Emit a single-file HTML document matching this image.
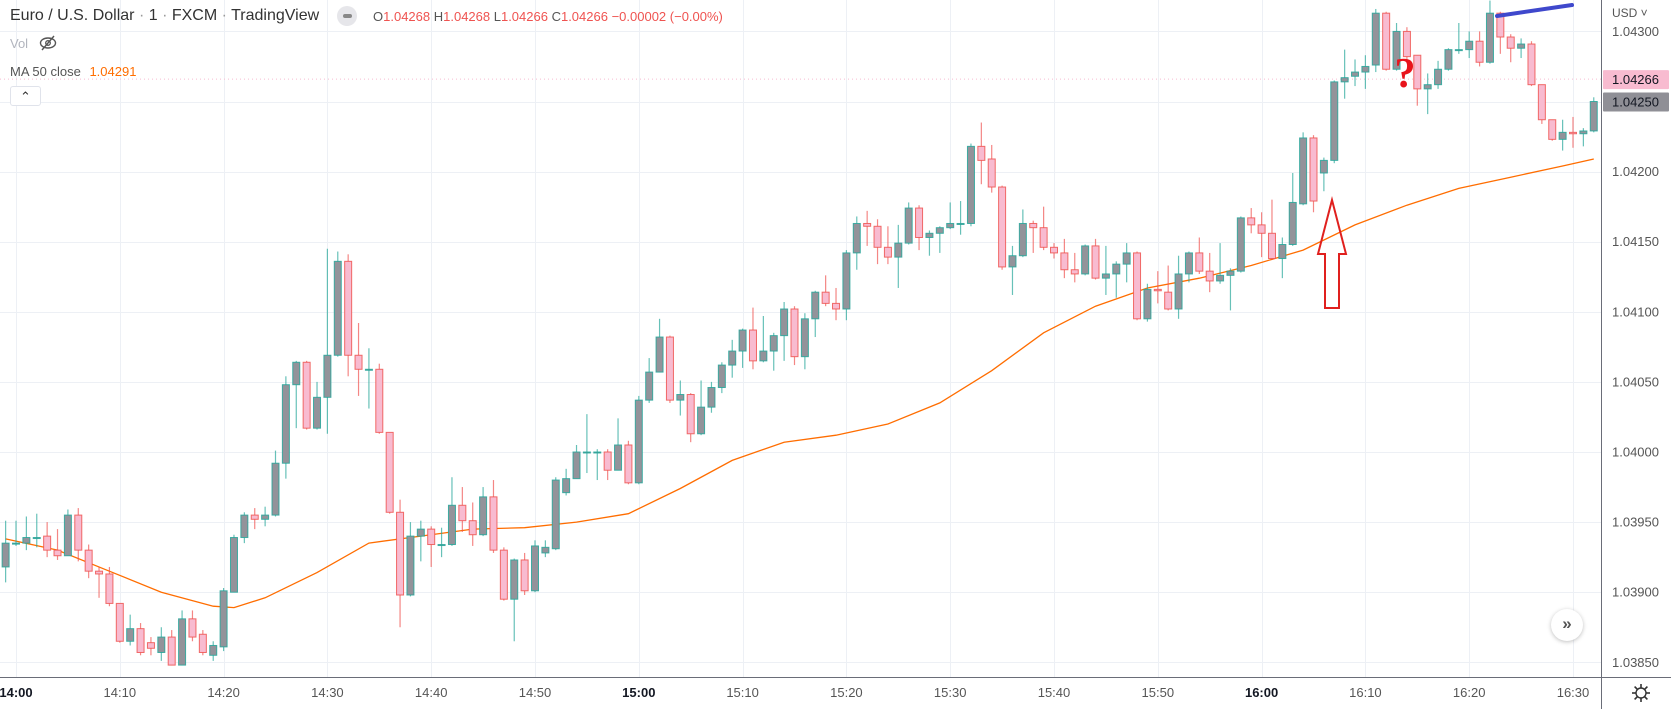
<!DOCTYPE html>
<html><head><meta charset="utf-8">
<style>
html,body{margin:0;padding:0;background:#fff;width:1671px;height:709px;overflow:hidden;font-family:"Liberation Sans",sans-serif}
#wrap{position:relative;width:1671px;height:709px}
svg{position:absolute;left:0;top:0}
.hdr{position:absolute;white-space:nowrap}
</style></head>
<body>
<div id="wrap">
<svg id="chart" width="1671" height="709"></svg>
<div class="hdr" style="left:10px;top:7px;font-size:16px;color:#333">Euro / U.S. Dollar <span style="color:#999">·</span> 1 <span style="color:#999">·</span> FXCM <span style="color:#999">·</span> TradingView</div>
<div style="position:absolute;left:337px;top:6px;width:20px;height:20px;border-radius:10px;background:#e6e6ea"><div style="position:absolute;left:6px;top:8px;width:9px;height:4px;border-radius:2px;background:#888"></div></div>
<div class="hdr" style="left:373px;top:9px;font-size:13px;color:#555">O<span style="color:#ef5350">1.04268</span> H<span style="color:#ef5350">1.04268</span> L<span style="color:#ef5350">1.04266</span> C<span style="color:#ef5350">1.04266 −0.00002 (−0.00%)</span></div>
<div class="hdr" style="left:10px;top:36px;font-size:13px;color:#b2b5be">Vol</div>
<svg width="20" height="16" style="left:38px;top:35px;position:absolute"><ellipse cx="10" cy="8" rx="7.5" ry="5" fill="none" stroke="#555" stroke-width="1.4"/><circle cx="10" cy="8" r="2.3" fill="none" stroke="#555" stroke-width="1.3"/><line x1="4" y1="15" x2="16" y2="1" stroke="#555" stroke-width="1.4"/></svg>
<div class="hdr" style="left:10px;top:64px;font-size:13px;color:#555">MA 50 close <span style="color:#ff6d00;margin-left:5px">1.04291</span></div>
<div style="position:absolute;left:10px;top:86px;width:29px;height:18px;border:1px solid #e0e3eb;border-radius:3px;background:#fff;font-size:13px;text-align:center;line-height:20px;color:#333">&#8963;</div>
<div class="hdr" style="left:1612px;top:6px;font-size:12px;color:#555">USD &#709;</div>
<div style="position:absolute;left:1551px;top:609px;width:32px;height:32px;border-radius:16px;background:#fff;box-shadow:0 1px 4px rgba(0,0,0,.25);text-align:center;line-height:30px;font-size:17px;font-weight:bold;color:#555">»</div>
<svg width="20" height="20" style="position:absolute;left:1631px;top:683px"><circle cx="10" cy="10" r="5" fill="none" stroke="#333" stroke-width="1.4"/><g stroke="#333" stroke-width="1.6"><line x1="10" y1="1" x2="10" y2="5"/><line x1="10" y1="15" x2="10" y2="19"/><line x1="1" y1="10" x2="5" y2="10"/><line x1="15" y1="10" x2="19" y2="10"/><line x1="3.6" y1="3.6" x2="6.5" y2="6.5"/><line x1="13.5" y1="13.5" x2="16.4" y2="16.4"/><line x1="3.6" y1="16.4" x2="6.5" y2="13.5"/><line x1="13.5" y1="6.5" x2="16.4" y2="3.6"/></g></svg>
</div>
<script>
// prices x1e5, candles start at 13:59 (minute -1)
const FIRST_MINUTE = -1;
const opens = [103918,103935,103935,103939,103940,103930,103926,103955,103930,103915,103913,103892,103865,103874,103864,103857,103868,103848,103881,103870,103855,103861,103900,103939,103955,103952,103955,103992,104048,104064,104017,104039,104069,104136,104069,104059,104059,104014,103957,103898,103940,103945,103934,103934,103962,103951,103941,103968,103930,103895,103923,103901,103928,103931,103971,103981,104000,104000,104000,103987,104005,103978,104037,104057,104082,104037,104041,104013,104032,104046,104062,104072,104087,104065,104072,104083,104102,104068,104095,104114,104106,104102,104142,104163,104161,104146,104139,104149,104174,104153,104156,104160,104163,104163,104218,104209,104189,104132,104140,104163,104160,104146,104142,104130,104127,104147,104124,104127,104134,104142,104095,104116,104114,104102,104127,104142,104129,104122,104126,104129,104167,104162,104156,104138,104148,104177,104224,104199,104208,104264,104268,104271,104276,104313,104273,104300,104283,104259,104262,104273,104287,104287,104293,104278,104313,104296,104288,104291,104262,104237,104223,104228,104227,104229];
const closes = [103935,103935,103939,103939,103930,103926,103955,103930,103915,103913,103892,103865,103874,103857,103860,103868,103848,103881,103868,103857,103862,103901,103939,103955,103952,103955,103992,104048,104064,104017,104039,104069,104136,104069,104059,104059,104014,103957,103898,103940,103945,103934,103934,103962,103951,103941,103968,103930,103895,103923,103901,103933,103932,103980,103981,104000,104000,104000,103987,104005,103978,104037,104057,104082,104037,104041,104013,104032,104046,104062,104072,104087,104065,104072,104083,104102,104068,104095,104114,104106,104102,104142,104163,104161,104146,104139,104149,104174,104153,104156,104160,104163,104163,104218,104208,104189,104132,104140,104163,104160,104146,104142,104130,104127,104147,104124,104127,104134,104142,104095,104116,104115,104102,104127,104142,104129,104122,104126,104129,104167,104162,104156,104138,104148,104178,104224,104179,104208,104264,104267,104271,104275,104313,104273,104300,104282,104259,104262,104273,104287,104287,104293,104278,104313,104296,104288,104291,104262,104237,104223,104228,104227,104229,104250];
const highs = [103951,103951,103954,103956,103950,103945,103959,103960,103934,103918,103918,103892,103884,103878,103868,103875,103873,103887,103887,103873,103865,103903,103941,103957,103960,103961,104001,104054,104065,104065,104050,104145,104143,104141,104092,104074,104063,104014,103966,103950,103951,103947,103946,103982,103975,103964,103975,103980,103932,103924,103928,103937,103937,103982,103988,104005,104027,104002,104002,104024,104008,104040,104067,104095,104083,104051,104042,104051,104050,104064,104080,104088,104103,104097,104085,104107,104104,104099,104115,104126,104117,104144,104168,104172,104166,104161,104162,104178,104176,104158,104161,104178,104179,104220,104235,104219,104190,104147,104173,104165,104175,104149,104152,104142,104148,104152,104147,104136,104149,104143,104120,104129,104133,104140,104143,104153,104142,104149,104131,104168,104174,104171,104180,104153,104199,104228,104226,104210,104265,104287,104280,104283,104316,104314,104306,104303,104283,104270,104279,104288,104306,104300,104300,104322,104314,104298,104295,104293,104262,104237,104237,104239,104231,104253];
const lows = [103907,103933,103930,103932,103925,103923,103926,103922,103910,103896,103890,103864,103862,103855,103855,103851,103848,103848,103865,103855,103851,103858,103900,103935,103945,103947,103954,103981,104017,104016,104016,104013,104068,104054,104040,104031,104013,103956,103875,103897,103922,103918,103925,103933,103943,103933,103940,103928,103894,103865,103898,103900,103925,103930,103969,103981,103985,103980,103980,103987,103977,103977,104035,104057,104035,104026,104007,104012,104028,104042,104053,104060,104059,104064,104058,104065,104062,104059,104082,104104,104094,104094,104130,104147,104134,104134,104117,104148,104144,104140,104142,104159,104155,104161,104191,104185,104130,104112,104139,104142,104144,104138,104124,104121,104126,104123,104112,104110,104121,104094,104093,104106,104101,104095,104121,104127,104114,104120,104101,104128,104156,104139,104137,104124,104147,104176,104171,104186,104206,104252,104261,104259,104271,104272,104272,104279,104247,104241,104259,104272,104284,104281,104275,104277,104284,104278,104281,104261,104234,104222,104215,104217,104218,104228];
// MA 50 read at sample minutes (minutes after 14:00)
const maMinutes = [-1,4,9,14,19,21,24,29,34,39,44,49,54,59,64,69,74,79,84,89,94,99,104,109,114,119,124,129,134,139,144,149,152];
const maValues = [103938,103930,103915,103900,103890,103889,103896,103914,103935,103940,103945,103946,103950,103956,103974,103994,104007,104012,104020,104035,104058,104085,104104,104117,104124,104133,104144,104162,104176,104188,104196,104204,104209];
const priceTicks = [1.0385,1.0390,1.0395,1.0400,1.0405,1.0410,1.0415,1.0420,1.0425,1.0430];
const priceTickLabels = ["1.03850","1.03900","1.03950","1.04000","1.04050","1.04100","1.04150","1.04200","1.04250","1.04300"];
const timeTickMinutes = [0,10,20,30,40,50,60,70,80,90,100,110,120,130,140,150];
const timeTickLabels = ["14:00","14:10","14:20","14:30","14:40","14:50","15:00","15:10","15:20","15:30","15:40","15:50","16:00","16:10","16:20","16:30"];
const lastPrice = 1.04250, markPrice = 1.04266;

const NS="http://www.w3.org/2000/svg";
const svg=document.getElementById('chart');
const PLOT_W=1601, PLOT_H=677;
function xOf(min){return 16 + min*10.38;}
function yOf(p){return 241.7 + (1.0415 - p)*140200;}
function P(v){return v/100000;}
function mk(tag,attrs,parent){const e=document.createElementNS(NS,tag);for(const k in attrs)e.setAttribute(k,attrs[k]);(parent||svg).appendChild(e);return e;}

const defs=mk('defs',{});
const cp=mk('clipPath',{id:'plotclip'},defs);
mk('rect',{x:0,y:0,width:PLOT_W,height:PLOT_H},cp);

// grid
const grid=mk('g',{});


priceTicks.forEach(p=>{const y=Math.round(yOf(p))+0.5;mk('line',{x1:0,x2:PLOT_W,y1:y,y2:y,stroke:'#edf0f5','stroke-width':1},grid);});
timeTickMinutes.forEach(m=>{const x=Math.round(xOf(m))+0.5;mk('line',{x1:x,x2:x,y1:0,y2:PLOT_H,stroke:'#edf0f5','stroke-width':1},grid);});

const plot=mk('g',{'clip-path':'url(#plotclip)'});
// mark price dotted line
const ml=mk('line',{x1:0,x2:PLOT_W,y1:yOf(markPrice),y2:yOf(markPrice),stroke:'#f8bbd0','stroke-width':1,'stroke-dasharray':'1 3'},plot);



// MA line
let d='';
maMinutes.forEach((m,i)=>{d+=(i?'L':'M')+xOf(m).toFixed(1)+' '+yOf(P(maValues[i])).toFixed(1);});
const ma=mk('path',{d:d,fill:'none',stroke:'#ff6d00','stroke-width':1.3},plot);



// candles
const cg=mk('g',{},plot);


for(let k=0;k<opens.length;k++){
  const m=k+FIRST_MINUTE, x=xOf(m);
  const o=P(opens[k]), c=P(closes[k]), h=P(highs[k]), l=P(lows[k]);
  const up=c>=o;
  const g=mk('g',{},cg);
  
  
  const wc=up?'#26a69a':'#ef5350';
  mk('line',{x1:x,x2:x,y1:yOf(h),y2:yOf(l),stroke:wc,'stroke-width':1.2,'stroke-opacity':0.7},g);
  const top=Math.min(yOf(o),yOf(c)), bh=Math.max(1,Math.abs(yOf(o)-yOf(c)));
  mk('rect',{x:x-3.5,y:top,width:7,height:bh,fill:up?'#93939a':'#f8bbd0',stroke:up?'#26a69a':'#ef5350','stroke-width':1,'stroke-opacity':0.85},g);
}

// annotations
const blue=mk('line',{x1:1497,y1:16,x2:1572,y2:5,stroke:'#3f48cc','stroke-width':4,'stroke-linecap':'round'},plot);


const arrow=mk('path',{d:'M1332 200 L1346 254 L1339 254 L1339 308 L1325 308 L1325 254 L1318 254 Z',fill:'none',stroke:'#e0201e','stroke-width':2},plot);


const q=mk('text',{x:1405,y:87,'font-family':'"Liberation Serif",serif','font-size':42,'font-weight':'bold',fill:'#e8141c','text-anchor':'middle'},plot);
q.textContent='?';



// axes
const ax=mk('g',{});


mk('line',{x1:PLOT_W+0.5,x2:PLOT_W+0.5,y1:0,y2:709,stroke:'#6a6d78','stroke-width':1},ax);
mk('line',{x1:0,x2:1671,y1:PLOT_H+0.5,y2:PLOT_H+0.5,stroke:'#6a6d78','stroke-width':1},ax);

const pyg=mk('g',{});


priceTicks.forEach((p,i)=>{
  const t=mk('text',{x:1612,y:yOf(p)+4.5,'font-size':13,fill:'#555','font-family':'"Liberation Sans",sans-serif'},pyg);
  t.textContent=priceTickLabels[i];
  
  
});
function priceBadge(p,bg,name){
  const y=yOf(p);
  const b=mk('rect',{x:1603,y:y-9,width:66,height:19,fill:bg,rx:1},pyg);
  
  
  const t=mk('text',{x:1612,y:y+5,'font-size':13,fill:'#131722','font-family':'"Liberation Sans",sans-serif'},pyg);
  t.textContent=p.toFixed(5);
}
priceBadge(markPrice,'#f8bbd0','mark-price-badge');
priceBadge(lastPrice,'#8f8f96','last-price-badge');

const txg=mk('g',{});


timeTickMinutes.forEach((m,i)=>{
  const bold=timeTickLabels[i].endsWith(':00');
  const t=mk('text',{x:xOf(m),y:697,'font-size':13,fill:bold?'#131722':'#555','font-weight':bold?'bold':'normal','text-anchor':'middle','font-family':'"Liberation Sans",sans-serif'},txg);
  t.textContent=timeTickLabels[i];
  
  
});
</script>
</body></html>
